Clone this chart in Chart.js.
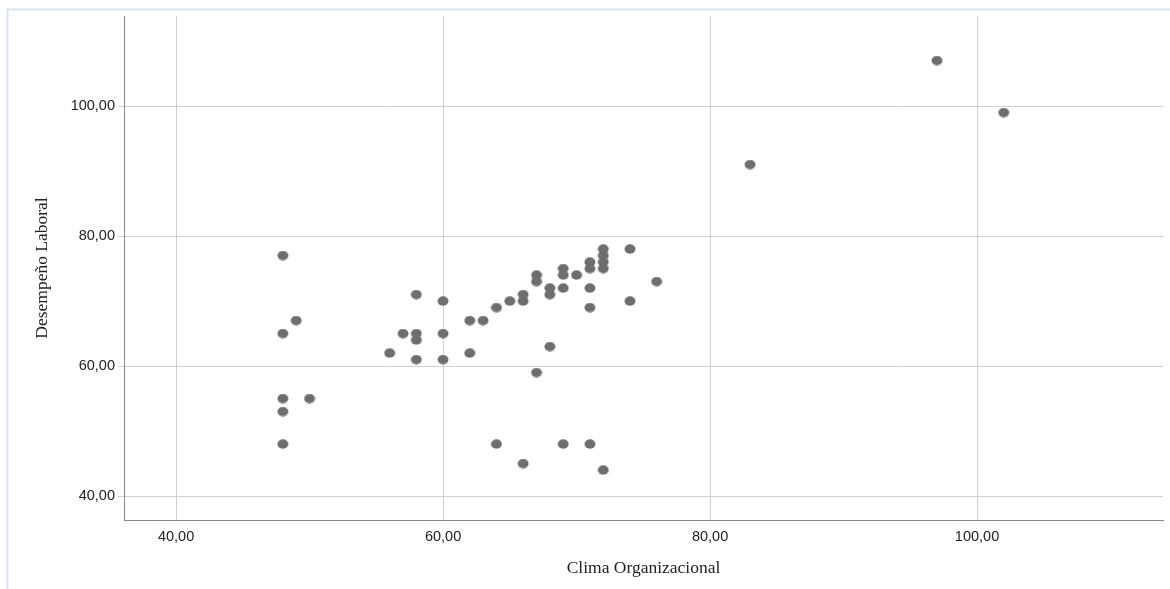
<!DOCTYPE html>
<html>
<head>
<meta charset="utf-8">
<title>Clima Organizacional vs Desempeño Laboral</title>
<script src="https://cdn.jsdelivr.net/npm/chart.js@4.4.1/dist/chart.umd.min.js"></script>
<style>
  html, body { margin: 0; padding: 0; background: #ffffff; }
  #wrap { width: 1170px; height: 589px; position: relative; }
</style>
</head>
<body>
<div id="wrap"><canvas id="chart" width="1170" height="589"></canvas></div>
<script>
// Clima Organizacional (x) and Desempeño Laboral (y), one entry per respondent
const clima = [
  48, 48, 49, 48, 48, 48, 50,
  56, 57, 58, 58, 58, 58, 60, 60, 60,
  62, 63, 62, 64, 65, 66, 66, 67, 67, 68, 68,
  69, 69, 69, 70, 71, 71, 71, 71,
  72, 72, 72, 72, 74, 74, 76, 68, 67,
  64, 66, 69, 71, 72,
  83, 97, 102
];
const desempeno = [
  77, 65, 67, 55, 53, 48, 55,
  62, 65, 71, 65, 64, 61, 70, 65, 61,
  67, 67, 62, 69, 70, 71, 70, 74, 73, 72, 71,
  75, 74, 72, 74, 76, 75, 72, 69,
  78, 77, 76, 75, 78, 70, 73, 63, 59,
  48, 45, 48, 48, 44,
  91, 107, 99
];
const xTickValues = [40, 60, 80, 100];
const yTickValues = [40, 60, 80, 100];
const xTitle = 'Clima Organizacional';
const yTitle = 'Desempeño Laboral';

const points = clima.map((x, i) => ({ x: x, y: desempeno[i] }));

// slightly wide oval marker
const marker = document.createElement('canvas');
marker.width = 12; marker.height = 10;
(function () {
  const c = marker.getContext('2d');
  c.fillStyle = '#6e6e6e';
  c.beginPath();
  c.ellipse(6, 5, 5.5, 4.7, 0, 0, Math.PI * 2);
  c.fill();
})();

const fmt = v => v.toFixed(2).replace('.', ',');

// thin light-blue frame along the top and left edges
const framePlugin = {
  id: 'frame',
  beforeDraw(chart) {
    const ctx = chart.ctx;
    ctx.save();
    ctx.strokeStyle = '#d8e3f1';
    ctx.lineWidth = 2;
    ctx.beginPath();
    ctx.moveTo(7.5, 589);
    ctx.lineTo(7.5, 9.5);
    ctx.lineTo(1170, 9.5);
    ctx.stroke();
    ctx.restore();
  }
};

const tickFont = { family: "'Liberation Sans', Arial, sans-serif", size: 14.5 };
const titleFont = { family: "'Liberation Serif', 'Times New Roman', serif", size: 17.5 };

new Chart(document.getElementById('chart'), {
  type: 'scatter',
  data: {
    datasets: [{
      data: points,
      pointStyle: marker,
      pointRadius: 5,
      pointHoverRadius: 5
    }]
  },
  plugins: [framePlugin],
  options: {
    responsive: false,
    devicePixelRatio: 1,
    animation: false,
    events: [],
    layout: { padding: { left: 0, top: 16, right: 7, bottom: 0 } },
    plugins: { legend: { display: false }, tooltip: { enabled: false } },
    scales: {
      x: {
        type: 'linear',
        min: 36.1,
        max: 113.93,
        afterBuildTicks: s => { s.ticks = xTickValues.map(v => ({ value: v })); },
        afterFit: s => { s.height = 69; },
        grid: { color: '#cfcfcf', lineWidth: 1, drawTicks: false },
        border: { color: '#888888', width: 1 },
        ticks: { font: tickFont, color: '#222222', padding: 8, maxRotation: 0, callback: v => fmt(v) },
        title: { display: true, text: xTitle, font: titleFont, color: '#222222', padding: { top: 0, bottom: 10 } }
      },
      y: {
        type: 'linear',
        min: 36.31,
        max: 113.85,
        afterBuildTicks: s => { s.ticks = yTickValues.map(v => ({ value: v })); },
        afterFit: s => { s.width = 124; },
        grid: { color: '#cfcfcf', lineWidth: 1, drawTicks: true, tickLength: 6 },
        border: { color: '#888888', width: 1 },
        ticks: { font: tickFont, color: '#222222', padding: 3, callback: v => fmt(v) },
        title: { display: true, text: yTitle, font: titleFont, color: '#222222', padding: { top: 32, bottom: 0 } }
      }
    }
  }
});
</script>
</body>
</html>
